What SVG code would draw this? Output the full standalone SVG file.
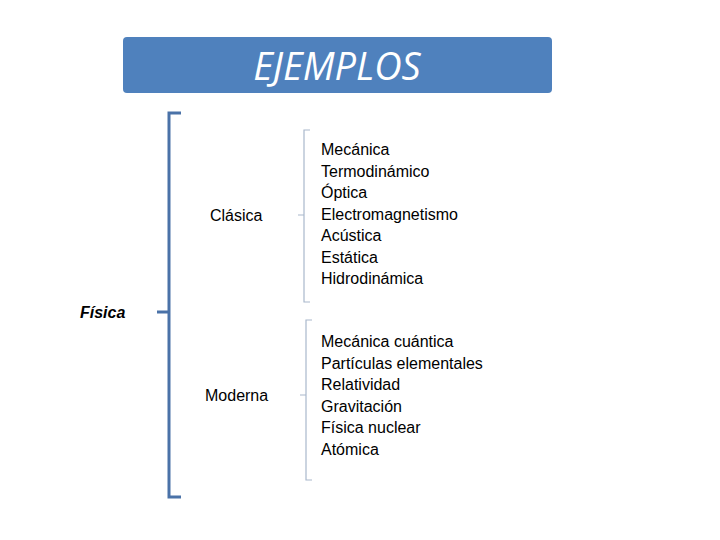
<svg xmlns="http://www.w3.org/2000/svg" width="720" height="540" viewBox="0 0 720 540">
<style>
.t{font-family:"Liberation Sans",Arial,sans-serif;font-size:16px;fill:#000}
.big{fill:none;stroke:#4a72a8;stroke-width:3}
.sm{fill:none;stroke:#a9b8cc;stroke-width:1.2}
</style>
<rect width="720" height="540" fill="#fff"/>
<g id="header">
<rect x="123" y="37" width="429" height="56" rx="4" fill="#4f81bd"/>
<text x="337" y="80" text-anchor="middle" font-family="Open Sans,'Liberation Sans',sans-serif" font-style="italic" font-size="38" fill="#fff">EJEMPLOS</text>
</g>
<g id="connectors">
<path class="big" d="M181,113 H169 V497 H181 M157,312 H169"/>
<path class="sm" d="M310,130 H304 V302 H310 M298,215 H304"/>
<path class="sm" d="M312,320 H306 V480 H312 M300,395 H306"/>
</g>
<g id="fisica"><text class="t" x="80" y="318" font-weight="bold" font-style="italic">Física</text></g>
<g id="clasica"><text class="t" x="210" y="221" font-size="18">Clásica</text></g>
<g id="moderna"><text class="t" x="205" y="401" font-size="18">Moderna</text></g>
<g id="clasica-list"><text class="t" x="321" y="155">
<tspan x="321" y="155">Mecánica</tspan><tspan x="321" dy="21.5">Termodinámico</tspan><tspan x="321" dy="21.5">Óptica</tspan><tspan x="321" dy="21.5">Electromagnetismo</tspan><tspan x="321" dy="21.5">Acústica</tspan><tspan x="321" dy="21.5">Estática</tspan><tspan x="321" dy="21.5">Hidrodinámica</tspan></text></g>
<g id="moderna-list"><text class="t">
<tspan x="321" y="347">Mecánica cuántica</tspan><tspan x="321" dy="21.5">Partículas elementales</tspan><tspan x="321" dy="21.5">Relatividad</tspan><tspan x="321" dy="21.5">Gravitación</tspan><tspan x="321" dy="21.5">Física nuclear</tspan><tspan x="321" dy="21.5">Atómica</tspan></text></g>
</svg>
